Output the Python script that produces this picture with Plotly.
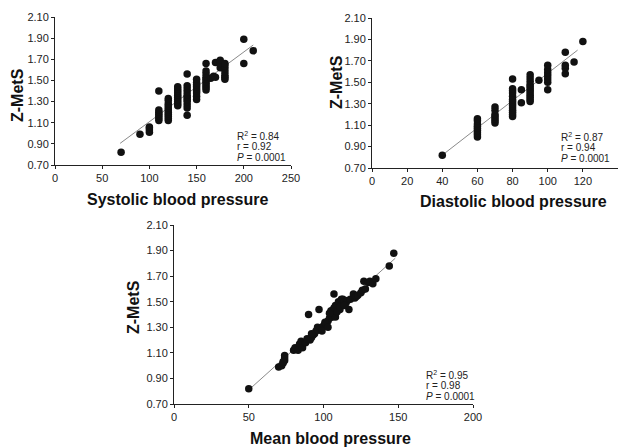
import plotly.graph_objects as go

# ---- Data ----
sys_x = [70, 90, 100, 100, 100, 100,
         110, 110, 110, 110, 110, 110, 110,
         120, 120, 120, 120, 120, 120, 120, 120, 120, 120, 120,
         130, 130, 130, 130, 130, 130, 130, 130, 130, 130,
         140, 140, 140, 140, 140, 140, 140, 140, 140, 140, 140,
         150, 150, 150, 150, 150, 150, 150, 150, 150,
         160, 160, 160, 160, 160, 160, 160, 160, 160, 160,
         165, 168, 170, 170, 175, 175, 175,
         180, 180, 180, 180, 180, 180, 180,
         200, 200, 210]
sys_y = [0.82, 0.99, 1.01, 1.03, 1.05, 1.06,
         1.12, 1.14, 1.16, 1.18, 1.20, 1.22, 1.40,
         1.12, 1.14, 1.16, 1.18, 1.20, 1.22, 1.24, 1.26, 1.28, 1.31, 1.33,
         1.26, 1.28, 1.30, 1.32, 1.34, 1.36, 1.38, 1.40, 1.42, 1.44,
         1.17, 1.24, 1.27, 1.30, 1.32, 1.34, 1.36, 1.39, 1.42, 1.45, 1.56,
         1.32, 1.35, 1.38, 1.40, 1.42, 1.44, 1.46, 1.48, 1.51,
         1.41, 1.43, 1.45, 1.47, 1.49, 1.51, 1.53, 1.56, 1.59, 1.66,
         1.52, 1.54, 1.53, 1.67, 1.62, 1.66, 1.69,
         1.51, 1.53, 1.55, 1.58, 1.61, 1.64, 1.66,
         1.89, 1.66, 1.78]

dia_x = [40,
         60, 60, 60, 60, 60, 60, 60, 60, 60,
         70, 70, 70, 70, 70, 70, 70,
         80, 80, 80, 80, 80, 80, 80, 80, 80, 80, 80, 80, 80, 80,
         85, 85,
         90, 90, 90, 90, 90, 90, 90, 90, 90, 90, 90, 90,
         95,
         100, 100, 100, 100, 100, 100, 100,
         110, 110, 110, 110, 115, 120]
dia_y = [0.82,
         0.99, 1.01, 1.03, 1.05, 1.07, 1.09, 1.11, 1.14, 1.16,
         1.12, 1.14, 1.16, 1.18, 1.20, 1.24, 1.27,
         1.18, 1.20, 1.22, 1.24, 1.26, 1.28, 1.30, 1.32, 1.34, 1.37, 1.40, 1.42, 1.44, 1.53,
         1.31, 1.43,
         1.32, 1.34, 1.36, 1.38, 1.40, 1.42, 1.44, 1.46, 1.48, 1.51, 1.54, 1.57,
         1.52,
         1.43, 1.50, 1.53, 1.56, 1.59, 1.62, 1.66,
         1.58, 1.63, 1.66, 1.78, 1.69, 1.88]

mean_x = [50, 70, 72, 73, 74, 74, 74, 73,
          80, 81, 83, 84, 85, 86, 88, 90, 91, 92, 93, 94, 95, 96, 97, 98, 99,
          100, 101, 102, 103, 104, 105, 105, 106, 106, 107, 107, 108, 108, 109,
          110, 110, 111, 112, 112, 113, 114, 115, 116, 117, 118, 120, 121, 122,
          123, 125, 126, 127, 128, 130, 131, 133, 135, 144, 147,
          89, 92, 96, 99, 101, 103, 104, 109, 111, 114]
mean_y = [0.82, 0.99, 1.00, 1.02, 1.04, 1.06, 1.08, 1.03,
          1.12, 1.14, 1.12, 1.17, 1.19, 1.14, 1.18, 1.40, 1.20, 1.22, 1.24, 1.25, 1.27, 1.30, 1.44, 1.28, 1.30,
          1.31, 1.33, 1.32, 1.35, 1.37, 1.40, 1.43, 1.42, 1.38, 1.56, 1.45, 1.38, 1.47, 1.47,
          1.50, 1.44, 1.44, 1.48, 1.52, 1.52, 1.50, 1.49, 1.51, 1.44, 1.52, 1.56, 1.53, 1.54,
          1.55, 1.57, 1.59, 1.66, 1.60, 1.65, 1.66, 1.64, 1.68, 1.78, 1.88,
          1.21, 1.25, 1.28, 1.27, 1.34, 1.30, 1.41, 1.42, 1.46, 1.47]

sys_fit_x = [69, 210]
sys_fit_y = [0.905, 1.835]
dia_fit_x = [40, 117]
dia_fit_y = [0.82, 1.80]
mean_fit_x = [50, 148]
mean_fit_y = [0.81, 1.84]

y_ticks = [0.70, 0.90, 1.10, 1.30, 1.50, 1.70, 1.90, 2.10]
sys_ticks = [0, 50, 100, 150, 200, 250]
dia_ticks = [0, 20, 40, 60, 80, 100, 120, 140]
mean_ticks = [0, 50, 100, 150, 200]

stats = [
    ["R<sup>2</sup> = 0.84", "r = 0.92", "<i>P</i> = 0.0001"],
    ["R<sup>2</sup> = 0.87", "r = 0.94", "<i>P</i> = 0.0001"],
    ["R<sup>2</sup> = 0.95", "r = 0.98", "<i>P</i> = 0.0001"],
]
titles = ["Systolic blood pressure", "Diastolic blood pressure", "Mean blood pressure"]
ytitle = "Z-MetS"

# ---- Layout geometry (pixels) ----
W, H = 618, 447
def fx(px):
    return px / W
def fy(py):
    return 1 - py / H

FONT = "Liberation Sans, Arial, sans-serif"
fig = go.Figure()

panels = [
    dict(xs=sys_x, ys=sys_y, fx_=sys_fit_x, fy_=sys_fit_y, ticks=sys_ticks,
         rng=[0, 250], dom_x=[55, 291], dom_y=[17, 165], ax="x", ay="y"),
    dict(xs=dia_x, ys=dia_y, fx_=dia_fit_x, fy_=dia_fit_y, ticks=dia_ticks,
         rng=[0, 140], dom_x=[372, 618], dom_y=[18, 168], ax="x2", ay="y2"),
    dict(xs=mean_x, ys=mean_y, fx_=mean_fit_x, fy_=mean_fit_y, ticks=mean_ticks,
         rng=[0, 200], dom_x=[174, 473], dom_y=[225, 404], ax="x3", ay="y3"),
]

for p in panels:
    fig.add_trace(go.Scatter(x=p["fx_"], y=p["fy_"], mode="lines",
                             line=dict(color="#8a8a8a", width=1),
                             xaxis=p["ax"], yaxis=p["ay"], showlegend=False,
                             hoverinfo="skip", cliponaxis=False))
    fig.add_trace(go.Scatter(x=p["xs"], y=p["ys"], mode="markers",
                             marker=dict(color="#111111", size=7.5),
                             xaxis=p["ax"], yaxis=p["ay"], showlegend=False,
                             cliponaxis=False))

layout = dict(width=W, height=H, margin=dict(l=0, r=0, t=0, b=0, autoexpand=False),
              paper_bgcolor="white", plot_bgcolor="rgba(0,0,0,0)",
              font=dict(family=FONT, size=11, color="#222222"))

for i, p in enumerate(panels):
    sx = "" if i == 0 else str(i + 1)
    layout["xaxis" + sx] = dict(
        domain=[fx(p["dom_x"][0]), fx(p["dom_x"][1])], range=p["rng"],
        tickvals=p["ticks"], ticktext=[str(t) for t in p["ticks"]],
        showline=True, linecolor="#222222", linewidth=1, ticks="outside",
        ticklen=3, tickcolor="#222222", showgrid=False, zeroline=False,
        anchor="y" + sx, tickfont=dict(size=11), automargin=False)
    layout["yaxis" + sx] = dict(
        domain=[fy(p["dom_y"][1]), fy(p["dom_y"][0])], range=[0.70, 2.10],
        tickvals=y_ticks, ticktext=["%.2f" % v for v in y_ticks],
        showline=True, linecolor="#222222", linewidth=1, ticks="outside",
        ticklen=3, tickcolor="#222222", showgrid=False, zeroline=False,
        anchor="x" + sx, tickfont=dict(size=11), automargin=False)

fig.update_layout(**layout)

ann = []
title_pos = [(177, 199), (513, 202), (330, 438)]
ytitle_pos = [(17, 95), (336, 82), (133, 307)]
stat_pos = [(236, 136), (560, 137), (425, 375)]
for i in range(3):
    tx, ty = title_pos[i]
    ann.append(dict(x=fx(tx), y=fy(ty), xref="paper", yref="paper",
                    text="<b>%s</b>" % titles[i], showarrow=False,
                    font=dict(size=16, color="#111111", family=FONT),
                    xanchor="center", yanchor="middle"))
    yx, yy = ytitle_pos[i]
    ann.append(dict(x=fx(yx), y=fy(yy), xref="paper", yref="paper",
                    text="<b>%s</b>" % ytitle, showarrow=False, textangle=-90,
                    font=dict(size=16, color="#111111", family=FONT),
                    xanchor="center", yanchor="middle"))
    sx0, sy0 = stat_pos[i]
    for j, line in enumerate(stats[i]):
        ann.append(dict(x=fx(sx0), y=fy(sy0 + 10.5 * j), xref="paper", yref="paper",
                        text=line, showarrow=False,
                        font=dict(size=10, color="#222222", family=FONT),
                        xanchor="left", yanchor="middle", borderpad=0))
fig.update_layout(annotations=ann)

fig.write_html("out.html",
               config={"displayModeBar": False},
               post_script="document.body.style.margin='0';document.body.style.padding='0';")
